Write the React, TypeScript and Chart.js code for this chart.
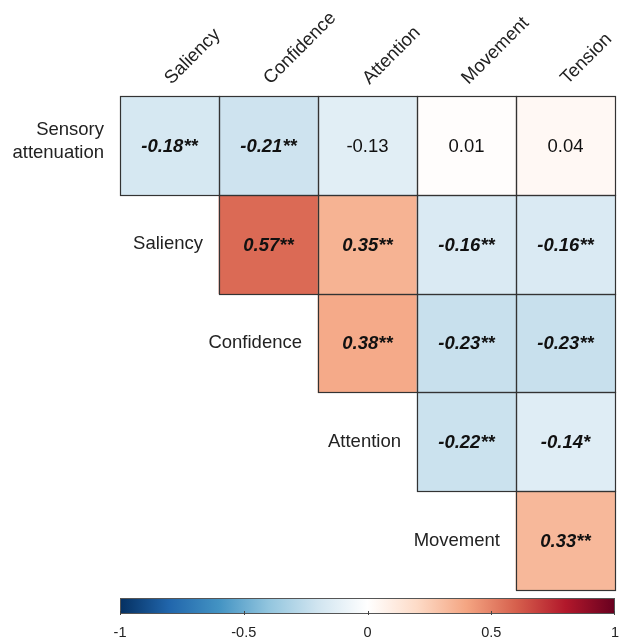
import React, { useEffect, useRef } from "react";
import { Chart, registerables } from "chart.js";

Chart.register(...registerables);

// ---- Data ----
const rowLabels = ["Sensory\nattenuation", "Saliency", "Confidence", "Attention", "Movement"];
const colLabels = ["Saliency", "Confidence", "Attention", "Movement", "Tension"];

const corrSensory: (number | null)[] = [-0.18, -0.21, -0.13, 0.01, 0.04];
const corrSaliency: (number | null)[] = [null, 0.57, 0.35, -0.16, -0.16];
const corrConfidence: (number | null)[] = [null, null, 0.38, -0.23, -0.23];
const corrAttention: (number | null)[] = [null, null, null, -0.22, -0.14];
const corrMovement: (number | null)[] = [null, null, null, null, 0.33];

const starsSensory = ["**", "**", "", "", ""];
const starsSaliency = ["", "**", "**", "**", "**"];
const starsConfidence = ["", "", "**", "**", "**"];
const starsAttention = ["", "", "", "**", "*"];
const starsMovement = ["", "", "", "", "**"];

const colorbarTicks = [-1, -0.5, 0, 0.5, 1];

const corrRows = [corrSensory, corrSaliency, corrConfidence, corrAttention, corrMovement];
const starRows = [starsSensory, starsSaliency, starsConfidence, starsAttention, starsMovement];

// RdBu palette stops from -1 to 1
const palette = [
  "#053061", "#2166AC", "#4393C3", "#92C5DE", "#D1E5F0", "#FFFFFF",
  "#FDDBC7", "#F4A582", "#D6604D", "#B2182B", "#67001F",
];

function hexToRgb(h: string) {
  const n = parseInt(h.slice(1), 16);
  return [(n >> 16) & 255, (n >> 8) & 255, n & 255];
}

function colorFor(v: number | null) {
  if (v === null || v === undefined) return "rgba(0,0,0,0)";
  const pos = ((v + 1) / 2) * (palette.length - 1);
  const i = Math.max(0, Math.min(palette.length - 2, Math.floor(pos)));
  const t = pos - i;
  const a = hexToRgb(palette[i]);
  const b = hexToRgb(palette[i + 1]);
  const c = a.map((x, k) => Math.round(x + (b[k] - x) * t));
  return `rgb(${c[0]},${c[1]},${c[2]})`;
}

function fmt(v: number) {
  return v.toFixed(2);
}

const FONT = "'Liberation Sans', Arial, Helvetica, sans-serif";

const corrPlugin = {
  id: "corrDecor",
  afterDatasetsDraw(chart: any) {
    const ctx = chart.ctx;
    const xs = chart.scales.x;
    const ys = chart.scales.y;
    const cb = chart.scales.cb;
    const area = chart.chartArea;
    ctx.save();

    // cell borders and text
    chart.data.datasets.forEach((ds: any, r: number) => {
      const meta = chart.getDatasetMeta(r);
      meta.data.forEach((bar: any, c: number) => {
        const v = corrRows[r][c];
        if (v === null) return;
        const p = bar.getProps(["x", "y", "base", "width"], true);
        const left = Math.round(p.x - p.width / 2);
        const right = Math.round(p.x + p.width / 2);
        const top = Math.round(Math.min(p.y, p.base));
        const bottom = Math.round(Math.max(p.y, p.base));
        ctx.strokeStyle = "#333333";
        ctx.lineWidth = 1.2;
        ctx.strokeRect(left + 0.5, top + 0.5, right - left, bottom - top);
        const star = starRows[r][c];
        ctx.fillStyle = "#111111";
        ctx.textAlign = "center";
        ctx.textBaseline = "middle";
        ctx.font = star ? `italic bold 18.5px ${FONT}` : `18.5px ${FONT}`;
        ctx.fillText(fmt(v) + star, (left + right) / 2, (top + bottom) / 2 + 1);
      });
    });

    // row labels
    ctx.fillStyle = "#222222";
    ctx.font = `18.5px ${FONT}`;
    ctx.textAlign = "right";
    ctx.textBaseline = "middle";
    rowLabels.forEach((lab, r) => {
      const cellLeft = xs.getPixelForValue(r) - (xs.getPixelForValue(1) - xs.getPixelForValue(0)) / 2;
      const cy = (ys.getPixelForValue(r) + ys.getPixelForValue(r + 1)) / 2;
      const lines = lab.split("\n");
      const lh = 23;
      const startY = cy - ((lines.length - 1) * lh) / 2 - (lines.length > 1 ? 4 : 0);
      lines.forEach((ln, k) => ctx.fillText(ln, cellLeft - 16, startY + k * lh));
    });

    // column labels (rotated)
    ctx.textAlign = "left";
    ctx.textBaseline = "alphabetic";
    colLabels.forEach((lab, c) => {
      const cx = xs.getPixelForValue(c);
      ctx.save();
      ctx.translate(cx + 2, area.top - 11);
      ctx.rotate(-Math.PI / 4);
      ctx.fillText(lab, 0, 0);
      ctx.restore();
    });

    // colour bar
    const x0 = cb.getPixelForValue(-1);
    const x1 = cb.getPixelForValue(1);
    const barTop = area.bottom + 8;
    const barH = 15;
    const grad = ctx.createLinearGradient(x0, 0, x1, 0);
    palette.forEach((col, i) => grad.addColorStop(i / (palette.length - 1), col));
    ctx.fillStyle = grad;
    ctx.fillRect(x0, barTop, x1 - x0, barH);
    ctx.strokeStyle = "#555555";
    ctx.lineWidth = 1;
    ctx.strokeRect(Math.round(x0) + 0.5, barTop + 0.5, Math.round(x1 - x0) - 1, barH);
    ctx.fillStyle = "#222222";
    ctx.font = `14.5px ${FONT}`;
    ctx.textAlign = "center";
    ctx.textBaseline = "middle";
    colorbarTicks.forEach((t) => {
      const tx = Math.min(Math.round(cb.getPixelForValue(t)) + 0.5, Math.round(x1) - 0.5);
      ctx.beginPath();
      ctx.moveTo(tx, barTop + barH - 2);
      ctx.lineTo(tx, barTop + barH + 2);
      ctx.strokeStyle = "#444444";
      ctx.stroke();
      ctx.fillText(String(t), cb.getPixelForValue(t), barTop + barH + 20);
    });
    ctx.restore();
  },
};

export default function App() {
  const ref = useRef<HTMLCanvasElement | null>(null);
  useEffect(() => {
    if (!ref.current) return;
    const chart = new Chart(ref.current, {
      type: "bar",
      data: {
        labels: colLabels,
        datasets: corrRows.map((vals, r) => ({
          label: rowLabels[r],
          data: vals.map((v) => (v === null ? null : [r, r + 1])) as any,
          backgroundColor: (c: any) => colorFor(vals[c.dataIndex]),
          borderWidth: 0,
          barPercentage: 1,
          categoryPercentage: 1,
          grouped: false,
        })),
      },
      options: {
        responsive: false,
        animation: false,
        events: [],
        layout: { padding: { left: 120, top: 96, right: 4, bottom: 54 } },
        plugins: { legend: { display: false }, tooltip: { enabled: false } },
        scales: {
          x: { type: "category", display: false, offset: true },
          y: { type: "linear", min: 0, max: 5, reverse: true, display: false },
          cb: {
            type: "linear",
            axis: "x",
            position: "bottom",
            min: -1,
            max: 1,
            offset: false,
            grid: { offset: false },
            display: false,
          },
        },
      } as any,
      plugins: [corrPlugin],
    });
    return () => chart.destroy();
  }, []);
  return (
    <div style={{ position: "absolute", left: 0, top: 0, width: 619, height: 644, background: "#fff" }}>
      <canvas ref={ref} width={619} height={644} style={{ width: 619, height: 644, display: "block" }} />
    </div>
  );
}
